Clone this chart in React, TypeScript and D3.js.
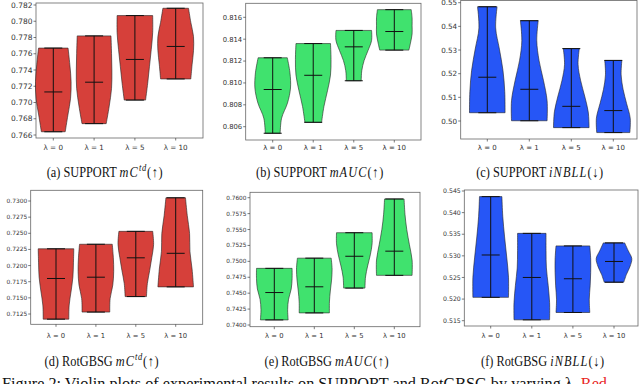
import React from 'react';
import * as d3 from 'd3';

const LAMBDA_LABELS = ['λ = 0', 'λ = 1', 'λ = 5', 'λ = 10'];

// (a) SUPPORT mC^td
const SUPPORT_CTD_MAX = [0.7767, 0.7782, 0.7807, 0.7816];
const SUPPORT_CTD_MIN = [0.7664, 0.7674, 0.7703, 0.7729];
const SUPPORT_CTD_MEAN = [0.7713, 0.7725, 0.7753, 0.7769];
const SUPPORT_CTD_SHAPE = [
    [0.83, 0.93, 1.0, 0.97, 0.82, 0.67],
    [0.95, 0.98, 1.0, 0.98, 0.85, 0.68],
    [1.0, 1.0, 0.92, 0.82, 0.72, 0.6],
    [0.72, 0.85, 1.0, 1.0, 0.92, 0.85],
];
const SUPPORT_CTD_TICKS = [0.766, 0.768, 0.770, 0.772, 0.774, 0.776, 0.778, 0.780, 0.782];

// (b) SUPPORT mAUC
const SUPPORT_AUC_MAX = [0.8123, 0.8136, 0.8148, 0.8167];
const SUPPORT_AUC_MIN = [0.8054, 0.8064, 0.8102, 0.8130];
const SUPPORT_AUC_MEAN = [0.8094, 0.8107, 0.8133, 0.8147];
const SUPPORT_AUC_SHAPE = [
    [0.82, 0.97, 1.0, 0.83, 0.5, 0.42],
    [0.97, 1.0, 0.97, 0.8, 0.6, 0.47],
    [1.0, 1.0, 0.8, 0.58, 0.45, 0.42],
    [0.95, 1.0, 1.0, 1.0, 0.92, 0.82],
];
const SUPPORT_AUC_TICKS = [0.806, 0.808, 0.810, 0.812, 0.814, 0.816];

// (c) SUPPORT iNBLL
const SUPPORT_NBLL_MAX = [0.5483, 0.5424, 0.5306, 0.5256];
const SUPPORT_NBLL_MIN = [0.5035, 0.5001, 0.4972, 0.4951];
const SUPPORT_NBLL_MEAN = [0.5185, 0.5134, 0.5062, 0.5044];
const SUPPORT_NBLL_SHAPE = [
    [0.55, 0.47, 0.68, 0.88, 0.98, 1.0],
    [0.5, 0.42, 0.55, 0.8, 1.0, 1.0],
    [0.45, 0.38, 0.52, 0.75, 0.95, 1.0],
    [0.48, 0.44, 0.55, 0.75, 0.95, 0.93],
];
const SUPPORT_NBLL_TICKS = [0.50, 0.51, 0.52, 0.53, 0.54, 0.55];

// (d) RotGBSG mC^td
const GBSG_CTD_MAX = [0.7226, 0.7233, 0.7253, 0.7305];
const GBSG_CTD_MIN = [0.7117, 0.7128, 0.7152, 0.7167];
const GBSG_CTD_MEAN = [0.7180, 0.7182, 0.7212, 0.7219];
const GBSG_CTD_SHAPE = [
    [1.0, 0.98, 0.95, 0.85, 0.74, 0.72],
    [0.92, 0.98, 1.0, 0.95, 0.8, 0.78],
    [0.95, 1.0, 0.9, 0.78, 0.65, 0.6],
    [0.55, 0.65, 0.78, 0.8, 0.92, 1.0],
];
const GBSG_CTD_TICKS = [0.7125, 0.7150, 0.7175, 0.7200, 0.7225, 0.7250, 0.7275, 0.7300];

// (e) RotGBSG mAUC
const GBSG_AUC_MAX = [0.7489, 0.7505, 0.7545, 0.7598];
const GBSG_AUC_MIN = [0.7408, 0.7419, 0.7458, 0.7478];
const GBSG_AUC_MEAN = [0.7451, 0.7460, 0.7508, 0.7516];
const GBSG_AUC_SHAPE = [
    [1.0, 1.0, 0.95, 0.8, 0.75, 0.78],
    [0.95, 1.0, 0.97, 0.9, 0.85, 0.85],
    [1.0, 1.0, 0.9, 0.75, 0.63, 0.6],
    [0.55, 0.6, 0.7, 0.85, 1.0, 1.0],
];
const GBSG_AUC_TICKS = [0.7400, 0.7425, 0.7450, 0.7475, 0.7500, 0.7525, 0.7550, 0.7575, 0.7600];

// (f) RotGBSG iNBLL
const GBSG_NBLL_MAX = [0.5437, 0.5352, 0.5323, 0.5330];
const GBSG_NBLL_MIN = [0.5204, 0.5152, 0.5169, 0.5239];
const GBSG_NBLL_MEAN = [0.5302, 0.5250, 0.5247, 0.5287];
const GBSG_NBLL_SHAPE = [
    [0.63, 0.68, 0.78, 0.9, 1.0, 1.0],
    [0.8, 0.8, 0.82, 0.92, 1.0, 1.0],
    [0.95, 1.0, 1.0, 0.97, 0.92, 0.95],
    [0.6, 0.8, 1.0, 0.9, 0.7, 0.55],
];
const GBSG_NBLL_TICKS = [0.515, 0.520, 0.525, 0.530, 0.535, 0.540, 0.545];

const RED = '#d6403a';
const GREEN = '#40e26e';
const BLUE = '#2656f6';

const HALF_WIDTH = 17.8;
const LINE_HALF = 9;

const PANELS = [
    { key: 'a', label: '(a) SUPPORT ', metric: 'mC', sup: 'td', arrow: '(↑)', color: RED,
        max: SUPPORT_CTD_MAX, min: SUPPORT_CTD_MIN, mean: SUPPORT_CTD_MEAN, shape: SUPPORT_CTD_SHAPE,
        ticks: SUPPORT_CTD_TICKS, fmt: '.3f',
        box: [36, 3, 203, 138], yPx: [135, 5], xPx: [53.3, 175.7], tickFont: 7.5, labFont: 7.2,
        labY: 149.5, capX: 105, capY: 177 },
    { key: 'b', label: '(b) SUPPORT ', metric: 'mAUC', sup: '', arrow: '(↑)', color: GREEN,
        max: SUPPORT_AUC_MAX, min: SUPPORT_AUC_MIN, mean: SUPPORT_AUC_MEAN, shape: SUPPORT_AUC_SHAPE,
        ticks: SUPPORT_AUC_TICKS, fmt: '.3f',
        box: [245.7, 3.3, 421, 140], yPx: [126.7, 17.3], xPx: [272.7, 394.3], tickFont: 6.8, labFont: 7,
        labY: 149.5, capX: 320, capY: 177 },
    { key: 'c', label: '(c) SUPPORT ', metric: 'iNBLL', sup: '', arrow: '(↓)', color: BLUE,
        max: SUPPORT_NBLL_MAX, min: SUPPORT_NBLL_MIN, mean: SUPPORT_NBLL_MEAN, shape: SUPPORT_NBLL_SHAPE,
        ticks: SUPPORT_NBLL_TICKS, fmt: '.2f',
        box: [460.7, 0.5, 637, 139], yPx: [121, 2.7], xPx: [487.3, 613.3], tickFont: 7.2, labFont: 7,
        labY: 149.5, capX: 540, capY: 177 },
    { key: 'd', label: '(d) RotGBSG ', metric: 'mC', sup: 'td', arrow: '(↑)', color: RED,
        max: GBSG_CTD_MAX, min: GBSG_CTD_MIN, mean: GBSG_CTD_MEAN, shape: GBSG_CTD_SHAPE,
        ticks: GBSG_CTD_TICKS, fmt: '.4f',
        box: [30.7, 190.3, 202.7, 324.3], yPx: [314, 201], xPx: [56, 175.7], tickFont: 5.9, labFont: 6.8,
        labY: 337.5, capX: 102, capY: 365.5 },
    { key: 'e', label: '(e) RotGBSG ', metric: 'mAUC', sup: '', arrow: '(↑)', color: GREEN,
        max: GBSG_AUC_MAX, min: GBSG_AUC_MIN, mean: GBSG_AUC_MEAN, shape: GBSG_AUC_SHAPE,
        ticks: GBSG_AUC_TICKS, fmt: '.4f',
        box: [250, 192.3, 420, 326.7], yPx: [325, 197.7], xPx: [274.3, 394.3], tickFont: 5.8, labFont: 6.8,
        labY: 337.5, capX: 327, capY: 365.5 },
    { key: 'f', label: '(f) RotGBSG ', metric: 'iNBLL', sup: '', arrow: '(↓)', color: BLUE,
        max: GBSG_NBLL_MAX, min: GBSG_NBLL_MIN, mean: GBSG_NBLL_MEAN, shape: GBSG_NBLL_SHAPE,
        ticks: GBSG_NBLL_TICKS, fmt: '.3f',
        box: [464.3, 190, 638, 326], yPx: [320.7, 191], xPx: [490.7, 614], tickFont: 6.2, labFont: 6.8,
        labY: 337.5, capX: 543, capY: 365.5 },
];

function ViolinPanel({ p })
{
    const [left, top, right, bottom] = p.box;
    const ticks: number[] = p.ticks;
    const yScale = d3.scaleLinear()
        .domain([ticks[0], ticks[ticks.length - 1]])
        .range(p.yPx);
    const xScale = d3.scaleLinear().domain([0, 3]).range(p.xPx);
    const fmt = d3.format(p.fmt);

    return (
        <g>
            <rect x={ left } y={ top } width={ right - left } height={ bottom - top }
                fill="#fff" stroke="#666" strokeWidth={ 0.8 } />
            { ticks.map((t) => (
                <g key={ t }>
                    <line x1={ left - 2.5 } x2={ left } y1={ yScale(t) } y2={ yScale(t) } stroke="#444" strokeWidth={ 0.7 } />
                    <text x={ left - 3.5 } y={ yScale(t) } dy="0.35em" textAnchor="end"
                        fontFamily="DejaVu Sans" fontSize={ p.tickFont } fill="#333">{ fmt(t) }</text>
                </g>
            )) }
            { LAMBDA_LABELS.map((lab, i) => (
                <g key={ lab }>
                    <line x1={ xScale(i) } x2={ xScale(i) } y1={ bottom } y2={ bottom + 2.5 } stroke="#444" strokeWidth={ 0.7 } />
                    <text x={ xScale(i) } y={ p.labY } textAnchor="middle"
                        fontFamily="DejaVu Sans" fontSize={ p.labFont } fill="#333">{ lab }</text>
                </g>
            )) }
            { LAMBDA_LABELS.map((lab, i) =>
            {
                const cx = xScale(i);
                const hi = p.max[i];
                const lo = p.min[i];
                const widths: number[] = p.shape[i];
                const n = widths.length - 1;
                const area = d3.area<number>()
                    .curve(d3.curveCatmullRom)
                    .y((_, j) => yScale(hi - (j / n) * (hi - lo)))
                    .x0((w) => cx - w * HALF_WIDTH)
                    .x1((w) => cx + w * HALF_WIDTH);
                return (
                    <g key={ `v${ lab }` }>
                        <path d={ area(widths) || '' } fill={ p.color } stroke="#222" strokeWidth={ 0.6 } />
                        <line x1={ cx } x2={ cx } y1={ yScale(hi) } y2={ yScale(lo) } stroke="#111" strokeWidth={ 1 } />
                        <line x1={ cx - LINE_HALF } x2={ cx + LINE_HALF } y1={ yScale(hi) } y2={ yScale(hi) } stroke="#111" strokeWidth={ 1 } />
                        <line x1={ cx - LINE_HALF } x2={ cx + LINE_HALF } y1={ yScale(lo) } y2={ yScale(lo) } stroke="#111" strokeWidth={ 1 } />
                        <line x1={ cx - LINE_HALF } x2={ cx + LINE_HALF } y1={ yScale(p.mean[i]) } y2={ yScale(p.mean[i]) } stroke="#111" strokeWidth={ 1 } />
                    </g>
                );
            }) }
            <text transform={ `translate(${ p.capX },${ p.capY }) scale(0.85,1)` } textAnchor="middle"
                fontFamily="Liberation Serif" fontSize={ 14.5 } fill="#111">
                <tspan>{ p.label }</tspan>
                <tspan fontStyle="italic" letterSpacing={ 1.3 }>{ p.metric }</tspan>
                { p.sup ? <tspan fontStyle="italic" fontSize={ 10 } dy={ -6 } letterSpacing={ 0.8 }>{ p.sup }</tspan> : null }
                <tspan dy={ p.sup ? 6 : 0 } letterSpacing={ 0.8 }>{ p.arrow }</tspan>
            </text>
        </g>
    );
}

export default function App()
{
    return (
        <svg width={ 640 } height={ 384 } style={ { position: 'absolute', left: 0, top: 0, background: '#fff' } }>
            { PANELS.map((p) => <ViolinPanel key={ p.key } p={ p } />) }
            <text x={ 2 } y={ 389 } fontFamily="Liberation Serif" fontSize={ 16 } fill="#111"
                textLength={ 605 } lengthAdjust="spacingAndGlyphs">
                Figure 2: Violin plots of experimental results on SUPPORT and RotGBSG by varying λ.{ ' ' }
                <tspan fill="#e8251f">Red</tspan>
            </text>
        </svg>
    );
}
